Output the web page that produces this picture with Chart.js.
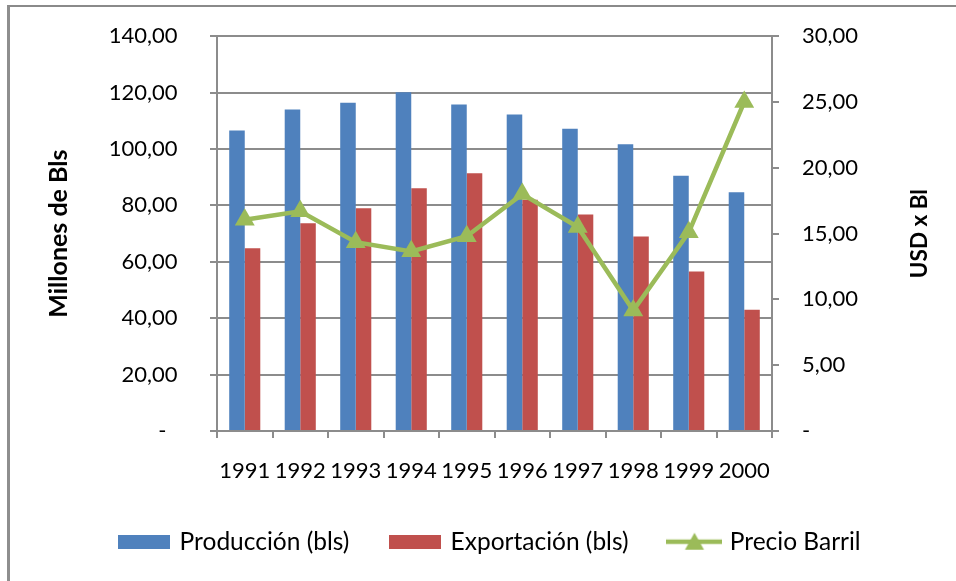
<!DOCTYPE html>
<html>
<head>
<meta charset="utf-8">
<script src="https://cdn.jsdelivr.net/npm/chart.js@4"></script>
<style>
  body { margin: 0; background: #fff; }
  #wrap { position: relative; width: 956px; height: 581px; }
  #frame { position: absolute; left: 7px; top: 5px; right: 0; bottom: 0;
           border-top: 2px solid #8a8a8a; border-left: 3px solid #8e8e8e; }
  canvas { position: absolute; left: 0; top: 0; }
</style>
</head>
<body>
<div id="wrap">
  <div id="frame"></div>
  <canvas id="myChart" width="956" height="581"></canvas>
</div>
<script>
const years = ['1991', '1992', '1993', '1994', '1995', '1996', '1997', '1998', '1999', '2000'];
const produccion = [106.6, 114.0, 116.4, 120.1, 115.8, 112.2, 107.2, 101.7, 90.5, 84.7];
const exportacion = [64.8, 73.7, 79.0, 86.1, 91.4, 82.0, 76.8, 69.0, 56.6, 43.0];
const precio = [16.05, 16.7, 14.35, 13.65, 14.8, 18.0, 15.5, 9.15, 15.1, 25.0];

const BLUE = '#4f81bd';
const RED = '#c0504d';
const GREEN = '#9bbb59';
const GRID = '#8c8c8c';

Chart.defaults.font.family = 'Lato';
Chart.defaults.color = '#000';

// numbers like 140,00 and a dash for zero
function fmt(v) {
    return v === 0 ? '-' : v.toFixed(2).replace('.', ',');
}

// left labels sit further from the axis; the trailing em space does that
// without inflating the scale padding (which would push the plot down)
function fmtLeft(v) {
    return v === 0 ? '-\u2002\u2003' : fmt(v) + '\u2003';
}

// little pictures used as legend symbols
function boxImage(color) {
    const c = document.createElement('canvas');
    c.width = 52; c.height = 14;
    const g = c.getContext('2d');
    g.fillStyle = color;
    g.fillRect(0, 0, 52, 14);
    return c;
}

function lineImage(color) {
    const c = document.createElement('canvas');
    c.width = 56; c.height = 20;
    const g = c.getContext('2d');
    g.strokeStyle = color;
    g.lineWidth = 4.5;
    g.beginPath();
    g.moveTo(0, 10); g.lineTo(56, 10);
    g.stroke();
    g.fillStyle = color;
    g.beginPath();
    g.moveTo(28, 1); g.lineTo(37.5, 18); g.lineTo(18.5, 18);
    g.closePath();
    g.fill();
    return c;
}

const legendImages = [boxImage(BLUE), boxImage(RED), lineImage(GREEN)];

// right axis title reads bottom to top, like the left one
const rightTitle = {
    id: 'rightTitle',
    afterDraw(chart) {
        const ctx = chart.ctx;
        ctx.save();
        ctx.translate(920, (chart.chartArea.top + chart.chartArea.bottom) / 2);
        ctx.rotate(-Math.PI / 2);
        ctx.font = 'bold 22.5px Lato';
        ctx.fillStyle = '#000';
        ctx.textAlign = 'center';
        ctx.textBaseline = 'middle';
        ctx.fillText('USD x Bl', 0, 0);
        ctx.restore();
    }
};

const ctx = document.getElementById('myChart').getContext('2d');

const myChart = new Chart(ctx, {
    type: 'bar',
    data: {
        labels: years,
        datasets: [
            {
                label: 'Producción (bls)',
                data: produccion,
                backgroundColor: BLUE,
                yAxisID: 'y',
                order: 2,
                categoryPercentage: 0.56,
                barPercentage: 1.0
            },
            {
                label: 'Exportación (bls)',
                data: exportacion,
                backgroundColor: RED,
                yAxisID: 'y',
                order: 2,
                categoryPercentage: 0.56,
                barPercentage: 1.0
            },
            {
                type: 'line',
                label: 'Precio Barril',
                data: precio,
                yAxisID: 'y1',
                order: 1,
                borderColor: GREEN,
                backgroundColor: GREEN,
                borderWidth: 4.5,
                tension: 0,
                pointStyle: 'triangle',
                pointRadius: 11.5,
                pointHoverRadius: 11.5,
                pointBorderWidth: 0,
                pointBackgroundColor: GREEN
            }
        ]
    },
    options: {
        responsive: false,
        animation: false,
        events: [],
        layout: {
            autoPadding: false,
            padding: { left: 26, right: 0, top: 36, bottom: 17 }
        },
        plugins: {
            tooltip: { enabled: false },
            legend: {
                position: 'bottom',
                labels: {
                    usePointStyle: true,
                    pointStyleWidth: 46,
                    padding: 43,
                    font: { size: 24.5 },
                    sort: (a, b) => a.datasetIndex - b.datasetIndex,
                    generateLabels(chart) {
                        const items = Chart.defaults.plugins.legend.labels.generateLabels(chart);
                        items.forEach(it => { it.pointStyle = legendImages[it.datasetIndex]; });
                        return items;
                    }
                }
            }
        },
        scales: {
            x: {
                grid: {
                    offset: true,
                    drawOnChartArea: false,
                    drawTicks: true,
                    tickLength: 7,
                    color: GRID,
                    lineWidth: 2
                },
                border: { color: GRID, width: 2 },
                ticks: {
                    font: { size: 22 },
                    padding: 20,
                    maxRotation: 0,
                    autoSkip: false
                },
                afterFit(scale) { scale.height = 55.5; }
            },
            y: {
                position: 'left',
                min: 0,
                max: 140,
                grid: {
                    color: GRID,
                    lineWidth: 2,
                    tickLength: 7
                },
                border: { color: GRID, width: 2 },
                ticks: {
                    stepSize: 20,
                    font: { size: 22 },
                    padding: 16,
                    callback: fmtLeft
                },
                title: {
                    display: true,
                    text: 'Millones de Bls',
                    font: { size: 25, weight: 'bold' },
                    padding: { top: 18, bottom: 0 }
                },
                afterFit(scale) { scale.width = 191; }
            },
            y1: {
                position: 'right',
                min: 0,
                max: 30,
                grid: {
                    drawOnChartArea: false,
                    color: GRID,
                    lineWidth: 2,
                    tickLength: 7
                },
                border: { color: GRID, width: 2 },
                ticks: {
                    stepSize: 5,
                    font: { size: 22 },
                    padding: 23,
                    callback: fmt
                },
                afterFit(scale) { scale.width = 184; }
            }
        }
    },
    plugins: [rightTitle]
});
</script>
</body>
</html>
